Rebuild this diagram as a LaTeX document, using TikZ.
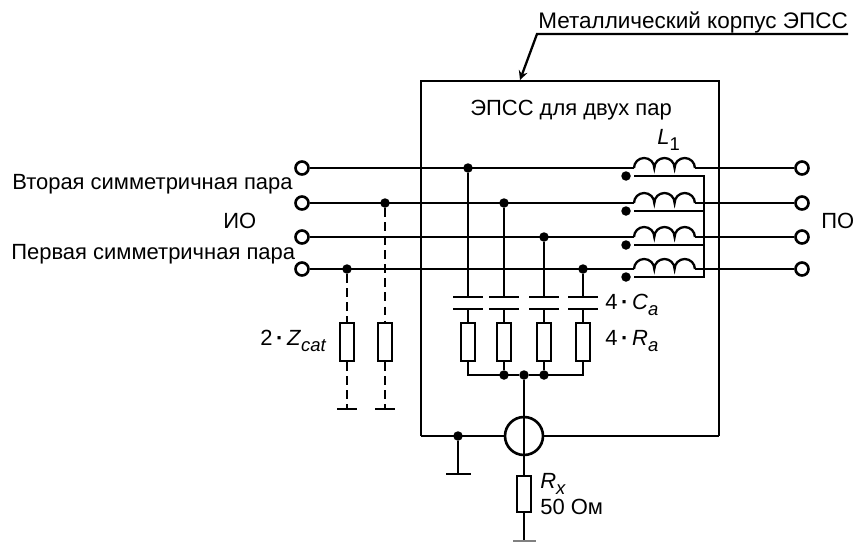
\documentclass[tikz,border=0pt]{standalone}
\usepackage{fontspec}
\setmainfont{Liberation Sans}
\tikzset{
  wire/.style={line width=1.3pt},
  terminal/.style={circle, draw, line width=1.5pt, fill=white, minimum size=.26cm, inner sep=0pt},
  junction/.style={circle, fill, minimum size=.19cm, inner sep=0pt},
  resistor/.style={rectangle, draw, line width=1.4pt, fill=white, minimum width=.28cm, minimum height=.76cm, inner sep=0pt},
  label/.style={anchor=base west, inner sep=0pt, font=\fontsize{12.5}{14}\selectfont},
}
\newcommand{\coil}[1]{\draw [wire] (#1) arc[start angle=180, end angle=0, x radius=.203, y radius=.2]
  arc[start angle=180, end angle=0, x radius=.203, y radius=.2]
  arc[start angle=180, end angle=0, x radius=.203, y radius=.2];}
\newcommand{\lowidx}[1]{\raisebox{-.6ex}{\fontsize{10.5}{12}\selectfont #1}}
\begin{document}
\begin{tikzpicture}
    \useasboundingbox (0,0) rectangle (17.14,10.84);

    % корпус
    \draw [line width=1.6pt] (8.42,2.12) -- (8.42,9.22) -- (14.38,9.22) -- (14.38,2.12);
    \coordinate (leadend) at (16.96,10.16);
    \coordinate (leadmid) at (10.74,10.16);
    \coordinate (leadtip) at (10.40,9.24);
    \draw [wire, -stealth] (leadend) -- (leadmid) -- (leadtip);
    \node (ncase) [label, font=\fontsize{12.8}{14}\selectfont] at (10.76,10.28) {Металлический корпус ЭПСС};
    \node (nepss) [label] at (9.4,8.54) {ЭПСС для двух пар};

    % линии и катушки
    \node (tla) [terminal] at (6.04,7.48) {};
    \node (tlb) [terminal] at (6.04,6.78) {};
    \node (tlc) [terminal] at (6.04,6.10) {};
    \node (tld) [terminal] at (6.04,5.46) {};
    \node (tra) [terminal] at (16.04,7.48) {};
    \node (trb) [terminal] at (16.04,6.78) {};
    \node (trc) [terminal] at (16.04,6.10) {};
    \node (trd) [terminal] at (16.04,5.46) {};
    \coordinate (lia) at (12.68,7.48);
    \coordinate (lib) at (12.68,6.78);
    \coordinate (lic) at (12.68,6.10);
    \coordinate (lid) at (12.68,5.46);
    \coordinate (loa) at (13.90,7.48);
    \coordinate (lob) at (13.90,6.78);
    \coordinate (loc) at (13.90,6.10);
    \coordinate (lod) at (13.90,5.46);
    \draw [wire] (tla) -- (lia) (tlb) -- (lib) (tlc) -- (lic) (tld) -- (lid);
    \draw [wire] (loa) -- (tra) (lob) -- (trb) (loc) -- (trc) (lod) -- (trd);
    \coil{lia} \coil{lib} \coil{lic} \coil{lid}

    % обмотки
    \node (ma) [junction] at (12.52,7.32) {};
    \node (mb) [junction] at (12.52,6.62) {};
    \node (mc) [junction] at (12.52,5.94) {};
    \node (md) [junction] at (12.52,5.30) {};
    \draw [wire] (12.68,7.32) -- (14.08,7.32) -- (14.08,5.30) -- (12.68,5.30);
    \draw [wire] (12.68,6.62) -- (14.08,6.62);
    \draw [wire] (12.68,5.94) -- (14.08,5.94);

    % ветвь 1
    \node (ja) [junction] at (9.36,7.48) {};
    \node (ra) [resistor] at (9.36,4.0) {};
    \draw [wire] (ja) -- (9.36,4.90) (9.06,4.90) -- (9.66,4.90);
    \draw [wire] (9.06,4.66) -- (9.66,4.66) (9.36,4.66) -- (ra);

    % ветвь 2
    \node (jb) [junction] at (10.08,6.78) {};
    \node (rb) [resistor] at (10.08,4.0) {};
    \draw [wire] (jb) -- (10.08,4.90) (9.78,4.90) -- (10.38,4.90);
    \draw [wire] (9.78,4.66) -- (10.38,4.66) (10.08,4.66) -- (rb);

    % ветвь 3
    \node (jc) [junction] at (10.88,6.10) {};
    \node (rc) [resistor] at (10.88,4.0) {};
    \draw [wire] (jc) -- (10.88,4.90) (10.58,4.90) -- (11.18,4.90);
    \draw [wire] (10.58,4.66) -- (11.18,4.66) (10.88,4.66) -- (rc);

    % ветвь 4
    \node (jd) [junction] at (11.66,5.46) {};
    \node (rd) [resistor] at (11.66,4.0) {};
    \draw [wire] (jd) -- (11.66,4.90) (11.36,4.90) -- (11.96,4.90);
    \draw [wire] (11.36,4.66) -- (11.96,4.66) (11.66,4.66) -- (rd);

    % общая шина
    \node (bb) [junction] at (10.08,3.34) {};
    \node (bm) [junction] at (10.48,3.34) {};
    \node (bc) [junction] at (10.88,3.34) {};
    \draw [wire] (ra) |- (bm);
    \draw [wire] (rd) |- (bm);
    \draw [wire] (rb) -- (bb);
    \draw [wire] (rc) -- (bc);

    % датчик и нижняя линия
    \node (sens) [circle, draw, line width=1.5pt, minimum size=.76cm, inner sep=0pt] at (10.48,2.12) {};
    \node (rx) [resistor, minimum height=.72cm] at (10.48,.96) {};
    \coordinate (boxl) at (8.42,2.12);
    \coordinate (boxr) at (14.38,2.12);
    \coordinate (gx) at (10.48,.02);
    \draw [wire] (boxl) -- (sens);
    \draw [wire] (sens) -- (boxr);
    \draw [wire] (bm) -- (rx);
    \draw [wire] (rx) -- (gx);
    \draw [wire, gray] (10.26,.02) -- (10.72,.02);

    % заземление корпуса
    \node (jg) [junction] at (9.16,2.12) {};
    \coordinate (gg) at (9.16,1.36);
    \draw [wire] (jg) -- (gg) (8.92,1.36) -- (9.42,1.36);

    % Zcat
    \node (jz) [junction] at (6.94,5.46) {};
    \node (jy) [junction] at (7.70,6.78) {};
    \node (rz) [resistor] at (6.94,4.0) {};
    \node (ry) [resistor] at (7.70,4.0) {};
    \coordinate (gz) at (6.94,2.66);
    \coordinate (gy) at (7.70,2.66);
    \draw [wire, dash pattern=on 5pt off 3pt] (jz) -- (rz);
    \draw [wire, dash pattern=on 5pt off 3pt] (jy) -- (ry);
    \draw [wire, dash pattern=on 5pt off 3pt] (rz) -- (gz);
    \draw [wire, dash pattern=on 5pt off 3pt] (ry) -- (gy);
    \draw [wire] (6.74,2.66) -- (7.14,2.66);
    \draw [wire] (7.50,2.66) -- (7.90,2.66);

    % подписи
    \node (nsec) [label] at (0.24,7.06) {Вторая симметричная пара};
    \node (nfir) [label] at (0.22,5.66) {Первая симметричная пара};
    \node (nio) [label] at (4.46,6.28) {ИО};
    \node (npo) [label] at (16.42,6.28) {ПО};
    \node (nl) [label] at (13.14,7.96) {\textit{L}\lowidx{1}};
    \node (nc) [label] at (12.1,4.66) {4\,\textbf{·}\,\textit{C}\lowidx{\textit{a}}};
    \node (nr) [label] at (12.1,3.94) {4\,\textbf{·}\,\textit{R}\lowidx{\textit{a}}};
    \node (nz) [label] at (5.2,3.94) {2\,\textbf{·}\,\textit{Z}\lowidx{\textit{cat}}};
    \node (nrx) [label] at (10.8,1.08) {\textit{R}\lowidx{\textit{x}}};
    \node (nom) [label] at (10.8,.56) {50 Ом};

\end{tikzpicture}
\end{document}
